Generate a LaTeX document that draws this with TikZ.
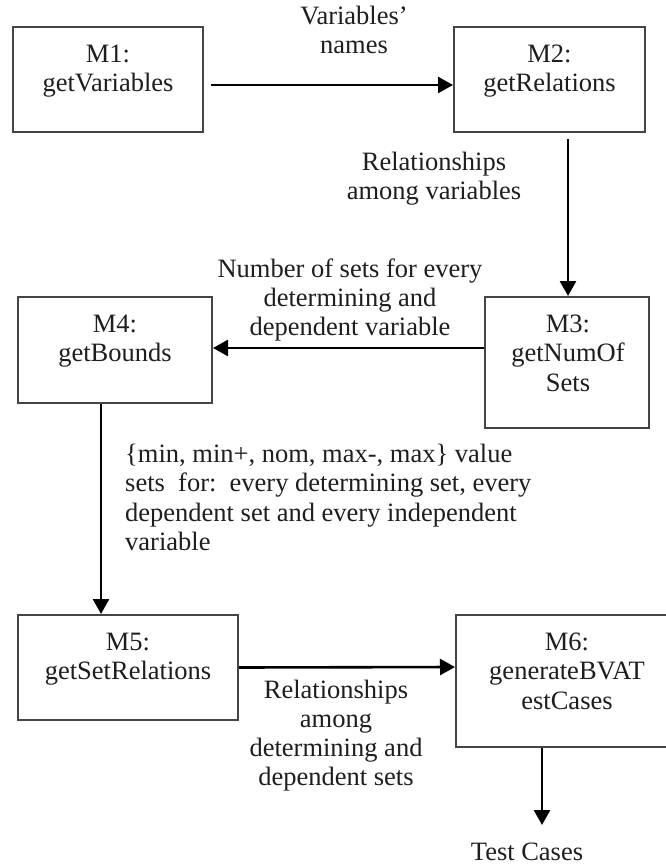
\documentclass[tikz,border=0pt]{standalone}
\usepackage{fontspec}
\setmainfont{Liberation Serif}
\usetikzlibrary{arrows.meta}
\newcommand\flowfont{\fontsize{26.5}{29.3}\selectfont}
\definecolor{boxgray}{HTML}{454545}
\definecolor{inkgray}{HTML}{1E1E1E}

\begin{document}
\begin{tikzpicture}[x=1pt,y=-1pt,
  module/.style={draw=boxgray, line width=2pt, inner sep=0pt, fill=white},
  txt/.style={font=\flowfont, text=inkgray, inner sep=0pt, align=center,
              execute at begin node=\strut},
  flow/.style={draw=black, line width=2.6pt,
               -{Triangle[length=15pt,width=16pt]}}
]
\useasboundingbox (0,0) rectangle (665,865);

% module boxes
\node[module, minimum width=190pt, minimum height=105pt] (m1) at (108,79.5) {};
\node[module, minimum width=191pt, minimum height=105pt] (m2) at (549.5,79.5) {};
\node[module, minimum width=164pt, minimum height=131pt] (m3) at (567,362.5) {};
\node[module, minimum width=194pt, minimum height=106pt] (m4) at (115,350) {};
\node[module, minimum width=220pt, minimum height=105pt] (m5) at (128,667.5) {};
\node[module, minimum width=222pt, minimum height=132pt] (m6) at (567,681) {};

% module names
\node[txt, anchor=north] (m1t) at ([yshift=-18.7pt]m1.north) {M1:\\getVariables};
\node[txt, anchor=north] (m2t) at ([yshift=-18.7pt]m2.north) {M2:\\getRelations};
\node[txt, anchor=north] (m3t) at ([xshift=1pt,yshift=-18.7pt]m3.north) {M3:\\getNumOf\\Sets};
\node[txt, anchor=north] (m4t) at ([yshift=-18.7pt]m4.north) {M4:\\getBounds};
\node[txt, anchor=north] (m5t) at ([yshift=-18.7pt]m5.north) {M5:\\getSetRelations};
\node[txt, anchor=north] (m6t) at ([yshift=-18.7pt]m6.north) {M6:\\generateBVAT\\estCases};

% data passed between modules
\node[txt, anchor=north] (l12) at (354,5.7) {Variables'\\names};
\node[txt, anchor=north] (l23) at (434,151.5) {Relationships\\among variables};
\node[txt, anchor=north] (l34) at (350,258.5) {Number of sets for every\\determining and\\dependent variable};
\node[txt, anchor=north west, align=left] (l45) at (125,444) {\{min, min+, nom, max-, max\} value\\sets\ \ for:\ \ every determining set, every\\dependent set and every independent\\variable};
\node[txt, anchor=north] (l56) at (336,679.5) {Relationships\\among\\determining and\\dependent sets};
\node[txt, anchor=north] (tc) at (527,839.5) {Test Cases};

% connectors
\draw[flow] ([xshift=7pt,yshift=-5.5pt]m1.east) -- ([yshift=-5.5pt]m2.west);
\draw[flow] ([xshift=18.5pt,yshift=-6pt]m2.south) -- ([xshift=1pt]m3.north);
\draw[flow] ([yshift=14.5pt]m3.west) -- ([yshift=2pt]m4.east);
\draw[flow] ([xshift=-14pt]m4.south) -- ([xshift=-27pt]m5.north);
\draw[flow] (m5.east) -- ([yshift=14pt]m6.west);
\draw[flow, shorten >=14.5pt] ([xshift=-25pt]m6.south) -- ([xshift=15pt]tc.north);
\end{tikzpicture}
\end{document}
